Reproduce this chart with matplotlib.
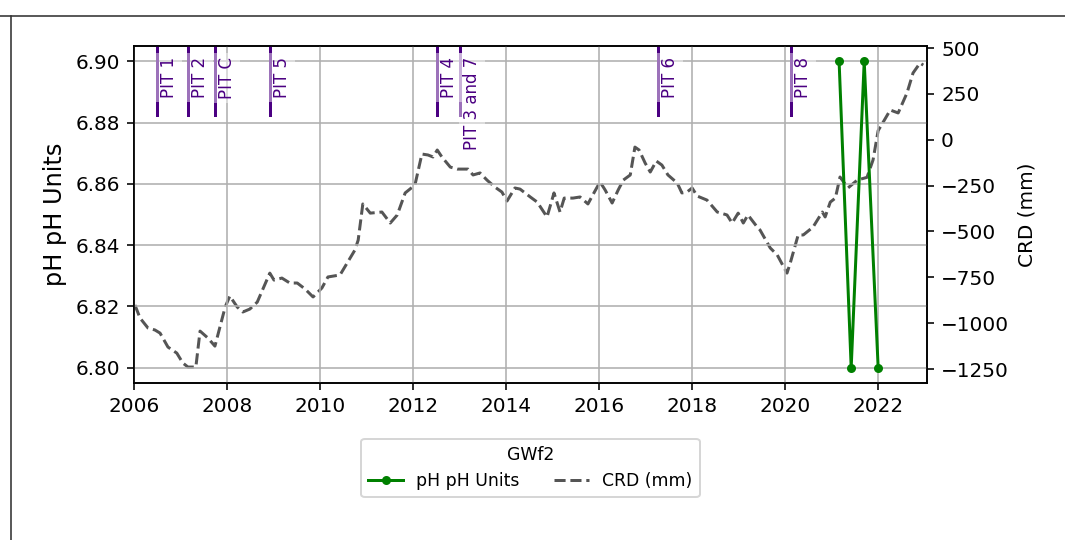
import matplotlib
matplotlib.use("Agg")
from matplotlib import pyplot as plt
from matplotlib.lines import Line2D
import matplotlib.ticker as mticker
import matplotlib.transforms as mtransforms

# pH readings at GWf2 (decimal years)
ph_year = [2021.16, 2021.42, 2021.70, 2022.00]
ph_value = [6.90, 6.80, 6.90, 6.80]

# cumulative rainfall deviation (mm)
crd_year = [2006.02, 2006.13, 2006.30, 2006.45, 2006.56, 2006.73, 2006.92, 2007.05,
            2007.16, 2007.33, 2007.42, 2007.59, 2007.74, 2007.96, 2008.06, 2008.22,
            2008.34, 2008.49, 2008.65, 2008.92, 2009.01, 2009.18, 2009.35, 2009.51,
            2009.68, 2009.85, 2010.04, 2010.17, 2010.43, 2010.75, 2010.82, 2010.92,
            2011.08, 2011.33, 2011.51, 2011.66, 2011.83, 2012.04, 2012.19, 2012.32,
            2012.43, 2012.52, 2012.62, 2012.80, 2012.95, 2013.18, 2013.29, 2013.44,
            2013.59, 2013.76, 2013.91, 2014.02, 2014.19, 2014.30, 2014.52, 2014.67,
            2014.88, 2015.03, 2015.16, 2015.25, 2015.44, 2015.59, 2015.76, 2015.91,
            2016.02, 2016.13, 2016.28, 2016.41, 2016.52, 2016.67, 2016.77, 2016.86,
            2016.99, 2017.10, 2017.23, 2017.35, 2017.48, 2017.68, 2017.78, 2017.89,
            2018.00, 2018.11, 2018.32, 2018.54, 2018.75, 2018.86, 2018.99, 2019.10,
            2019.20, 2019.40, 2019.46, 2019.68, 2019.83, 2020.04, 2020.11, 2020.28,
            2020.39, 2020.60, 2020.80, 2020.86, 2020.97, 2021.08, 2021.18, 2021.35,
            2021.55, 2021.76, 2021.89, 2022.00, 2022.11, 2022.26, 2022.43, 2022.62,
            2022.75, 2022.90, 2022.97]
crd_mm = [-901, -972, -1026, -1037, -1054, -1130, -1163, -1217,
          -1239, -1239, -1043, -1081, -1125, -912, -852, -912,
          -939, -923, -885, -727, -765, -754, -781, -781,
          -814, -857, -808, -748, -737, -601, -547, -350,
          -400, -394, -454, -410, -290, -247, -78, -83,
          -94, -56, -94, -149, -160, -160, -192, -181,
          -220, -258, -285, -334, -263, -269, -312, -340,
          -421, -290, -394, -318, -318, -312, -350, -280,
          -230, -274, -345, -274, -220, -192, -40, -56,
          -127, -176, -116, -138, -192, -236, -290, -285,
          -263, -307, -329, -394, -410, -454, -400, -454,
          -410, -476, -492, -590, -628, -727, -672, -519,
          -519, -476, -394, -421, -340, -318, -203, -263,
          -220, -205, -110, 50, 97, 162, 146, 255,
          364, 418, 407]

# pit events
pit_year = [2006.49, 2007.16, 2007.74, 2008.92, 2012.52, 2013.01, 2017.27, 2020.13]
pit_label = ["PIT 1", "PIT 2", "PIT C", "PIT 5", "PIT 4", "PIT 3 and 7", "PIT 6", "PIT 8"]

fig = plt.figure(figsize=(1065 / 144, 540 / 144), dpi=144)
ax = fig.add_axes([134 / 1065, 1 - 383 / 540, 793 / 1065, 337 / 540])
ax2 = ax.twinx()
ax.set_zorder(ax2.get_zorder() + 1)
ax.patch.set_visible(False)

ph_line, = ax.plot(ph_year, ph_value, color="green", marker="o", markersize=3.5,
                   linewidth=1.5, label="pH pH Units")
crd_line, = ax2.plot(crd_year, crd_mm, color="#555555", linestyle="--",
                     linewidth=1.5, label="CRD (mm)")

# shift the pit labels a little to the right of their marker lines
shift = mtransforms.offset_copy(ax.get_xaxis_transform(), fig=fig, x=1.5, y=0, units="points")
for yr, lbl in zip(pit_year, pit_label):
    ax.axvline(yr, ymin=0.795, ymax=1.0, color="indigo", linewidth=1.5)
    ax.text(yr, 0.968, lbl, rotation=90, fontsize=8.3, color="indigo",
            ha="left", va="top", transform=shift,
            bbox=dict(facecolor="white", edgecolor="none", alpha=0.45, pad=2.0))

ax.set_xlim(2006.0, 2023.05)
ax.xaxis.set_major_locator(mticker.MultipleLocator(2))
ax.xaxis.set_major_formatter(mticker.FormatStrFormatter("%d"))
ax.yaxis.set_major_formatter(mticker.FormatStrFormatter("%.2f"))
ax2.set_ylim(-1326, 511)
ax.grid(True)

ax.set_ylabel("pH pH Units", fontsize=12)
ax2.set_ylabel("CRD (mm)")

ax.legend(handles=[ph_line, crd_line], title="GWf2", ncol=2, fontsize=8.6,
          title_fontsize=8.6, loc="upper center", bbox_to_anchor=(0.5, -0.14))

# frame edges around the output cell
fig.add_artist(Line2D([0, 1], [1 - 16 / 540, 1 - 16 / 540], color="#333333",
                      linewidth=0.8, transform=fig.transFigure))
fig.add_artist(Line2D([11 / 1065, 11 / 1065], [0, 1 - 16 / 540], color="#333333",
                      linewidth=0.8, transform=fig.transFigure))

fig.savefig("out.png", dpi=144)
